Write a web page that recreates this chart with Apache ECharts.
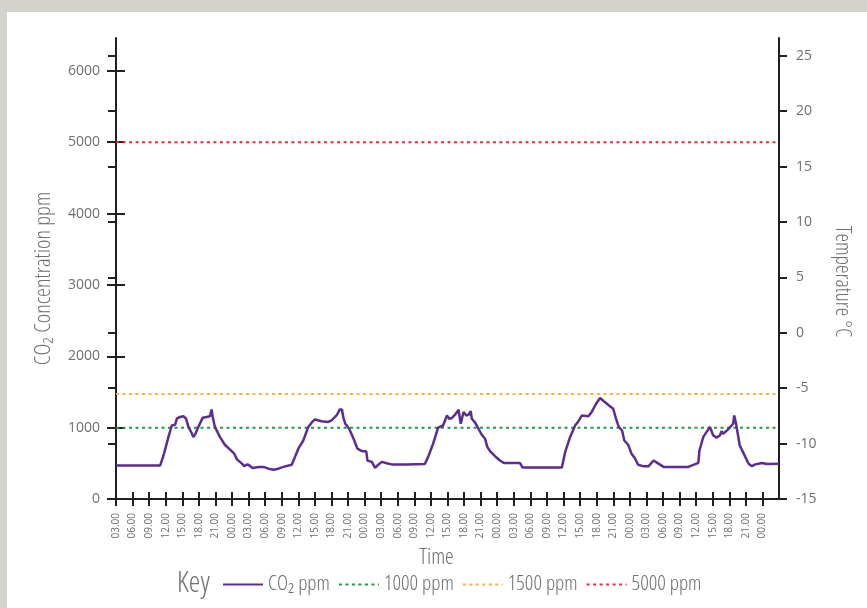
<!DOCTYPE html>
<html>
<head>
<meta charset="utf-8">
<script src="https://cdn.jsdelivr.net/npm/echarts@6/dist/echarts.min.js"></script>
<style>
html,body{margin:0;padding:0;background:#d3d2cd;}
#chart{width:867px;height:608px;}
</style>
</head>
<body>
<div id="chart"></div>
<script>
// Hours since 03.00 on day 1
const hours = [0, 8.0, 8.6, 9.5, 10.1, 10.4, 10.7, 11.0, 11.6, 12.2, 12.7, 13.1, 13.7, 14.0, 14.3, 14.9, 15.7, 16.4, 17.0, 17.3, 17.5, 17.9, 18.8, 19.7, 20.6, 21.4, 21.9, 22.8, 23.2, 23.8, 24.3, 24.7, 25.5, 26.1, 26.4, 26.7, 27.6, 28.5, 29.4, 30.3, 31.8, 32.4, 33.0, 33.9, 34.8, 35.4, 36.0, 37.2, 38.4, 39.0, 40.0, 40.5, 40.9, 41.0, 41.2, 41.5, 42.2, 43.0, 43.7, 44.5, 45.3, 45.5, 46.3, 46.6, 46.9, 47.3, 48.1, 49.0, 49.9, 52.6, 55.9, 56.5, 57.4, 58.3, 59.2, 59.9, 60.3, 60.8, 61.4, 62.0, 62.4, 62.9, 63.4, 63.8, 64.2, 64.4, 65.0, 65.6, 66.2, 66.8, 67.2, 67.7, 68.6, 69.5, 70.2, 73.1, 73.6, 80.7, 81.3, 82.2, 83.1, 83.7, 84.3, 85.5, 86.1, 86.9, 87.6, 88.3, 89.4, 90.0, 90.5, 91.0, 91.6, 92.0, 92.7, 93.3, 93.9, 94.5, 95.4, 96.4, 97.3, 97.9, 99.1, 103.6, 105.4, 105.6, 106.3, 107.5, 108.1, 108.7, 109.3, 109.6, 109.9, 110.8, 111.7, 111.9, 112.2, 112.9, 113.9, 114.5, 115.1, 115.7, 116.9, 117.8, 120];
const co2 = [470, 470, 610, 870, 1030, 1055, 1040, 1125, 1150, 1160, 1125, 1010, 925, 870, 900, 1010, 1140, 1150, 1160, 1255, 1150, 1010, 870, 760, 695, 635, 555, 495, 460, 485, 460, 435, 445, 450, 470, 450, 425, 410, 425, 450, 480, 590, 705, 820, 1010, 1070, 1115, 1090, 1080, 1100, 1180, 1255, 1255, 1200, 1125, 1055, 985, 845, 705, 670, 668, 540, 520, 540, 435, 470, 520, 500, 485, 485, 490, 590, 775, 1000, 1030, 1170, 1125, 1135, 1185, 1250, 1055, 1220, 1170, 1180, 1230, 1125, 1070, 985, 900, 845, 730, 670, 600, 540, 505, 505, 440, 440, 660, 870, 1030, 1090, 1170, 1160, 1220, 1335, 1415, 1370, 1300, 1265, 1125, 1010, 960, 820, 760, 635, 575, 480, 460, 460, 540, 510, 450, 450, 505, 680, 870, 1010, 890, 860, 890, 950, 915, 975, 1055, 1170, 1065, 750, 590, 495, 460, 485, 505, 490, 495];

const tickLabels = ['03.00','06.00','09.00','12.00','15.00','18.00','21.00',
  '00.00','03.00','06.00','09.00','12.00','15.00','18.00','21.00',
  '00.00','03.00','06.00','09.00','12.00','15.00','18.00','21.00',
  '00.00','03.00','06.00','09.00','12.00','15.00','18.00','21.00',
  '00.00','03.00','06.00','09.00','12.00','15.00','18.00','21.00',
  '00.00'];
const tickStep = 3;
const xMax = 120;

const co2Ticks = [0, 1000, 2000, 3000, 4000, 5000, 6000];
const tempTicks = [-15, -10, -5, 0, 5, 10, 15, 20, 25];

const thresholdNames = ['1000 ppm', '1500 ppm', '5000 ppm'];
const thresholdValues = [1000, 1470, 5000];
const thresholdColors = ['#1f9a47', '#fbb040', '#ee2b3b'];

const cond = "'Open Sans',sans-serif";
const condWeight = '300 condensed';
const tickFont = "'Open Sans',sans-serif";
const textCol = '#6d6e71';
const axisCol = '#231f20';

const xTickVals = tickLabels.map((_, i) => i * tickStep);

const chart = echarts.init(document.getElementById('chart'), null, {renderer: 'canvas'});

const baseX = {
  type: 'value', min: 0, max: xMax, position: 'bottom', gridIndex: 0,
  splitLine: {show: false},
  axisLine: {show: true, onZero: false, lineStyle: {color: axisCol, width: 2}},
};
const baseYLeft = {
  type: 'value', min: 0, max: 6460, position: 'left',
  splitLine: {show: false},
  axisLine: {show: true, onZero: false, lineStyle: {color: axisCol, width: 2}},
};
const baseYRight = {
  type: 'value', min: -15, max: 26.6, position: 'right',
  splitLine: {show: false},
  axisLine: {show: true, onZero: false, lineStyle: {color: axisCol, width: 2}},
};

const series = [{
  name: 'CO₂ ppm', type: 'line', xAxisIndex: 0, yAxisIndex: 0,
  data: hours.map((h, i) => [h, co2[i]]),
  symbol: 'none', z: 5,
  lineStyle: {color: '#5c2d91', width: 2.5},
  itemStyle: {color: '#5c2d91'}
}];
thresholdNames.forEach((n, i) => {
  series.push({
    name: n, type: 'line', xAxisIndex: 0, yAxisIndex: 0,
    data: [[0, thresholdValues[i]], [xMax, thresholdValues[i]]],
    symbol: 'none', z: 3,
    lineStyle: {color: thresholdColors[i], width: 2, type: [3, 3.5]},
    itemStyle: {color: thresholdColors[i]}
  });
});

chart.setOption({
  animation: false,
  backgroundColor: '#d3d2cd',
  graphic: [{type: 'rect', left: 7, top: 12, shape: {width: 860, height: 596}, style: {fill: '#ffffff'}, z: -10, silent: true}],
  title: {text: 'Key', left: 177, top: 569, padding: 0, textStyle: {fontFamily: cond, fontSize: 29, fontWeight: condWeight, color: textCol}},
  legend: {
    left: 222, top: 574, padding: 0, itemWidth: 40, itemHeight: 14, itemGap: 8,
    itemStyle: {color: 'rgba(0,0,0,0)', borderWidth: 0, opacity: 0},
    textStyle: {fontFamily: cond, fontSize: 21, fontWeight: condWeight, color: textCol},
    data: ['CO₂ ppm'].concat(thresholdNames)
  },
  grid: {left: 116, right: 88, top: 38, bottom: 109, containLabel: false},
  xAxis: [
    Object.assign({}, baseX, {
      name: 'Time', nameLocation: 'middle', nameGap: 37,
      nameTextStyle: {fontFamily: cond, fontSize: 22, fontWeight: condWeight, color: textCol, padding: [0, 22, 0, 0]},
      axisTick: {show: true, inside: false, length: 7, customValues: xTickVals, lineStyle: {color: axisCol, width: 2}},
      axisLabel: {show: true, rotate: 90, margin: 14, customValues: xTickVals, fontFamily: tickFont, fontSize: 10, color: textCol,
        formatter: v => tickLabels[Math.round(v / tickStep)] || ''}
    }),
    Object.assign({}, baseX, {
      axisLine: {show: false},
      axisTick: {show: true, inside: true, length: 7, customValues: xTickVals, lineStyle: {color: axisCol, width: 2}},
      axisLabel: {show: false}
    })
  ],
  yAxis: [
    Object.assign({}, baseYLeft, {
      name: 'CO₂ Concentration ppm', nameLocation: 'middle', nameGap: 61, nameRotate: 90,
      nameTextStyle: {fontFamily: cond, fontSize: 22.5, fontWeight: condWeight, color: textCol, padding: [0, 20, 0, 0]},
      axisTick: {show: true, inside: false, length: 9, customValues: co2Ticks, lineStyle: {color: axisCol, width: 2}},
      axisLabel: {show: true, margin: 16, customValues: co2Ticks, fontFamily: tickFont, fontSize: 14, color: textCol,
        formatter: v => String(v)}
    }),
    Object.assign({}, baseYRight, {
      name: 'Temperature °C', nameLocation: 'middle', nameGap: 52, nameRotate: -90,
      nameTextStyle: {fontFamily: cond, fontSize: 21.5, fontWeight: condWeight, color: textCol, padding: [0, 0, 0, 26]},
      axisTick: {show: true, inside: false, length: 8, customValues: tempTicks, lineStyle: {color: axisCol, width: 2}},
      axisLabel: {show: true, margin: 17, customValues: tempTicks, fontFamily: tickFont, fontSize: 14, color: textCol,
        formatter: v => String(v)}
    }),
    Object.assign({}, baseYLeft, {
      axisLine: {show: false},
      axisTick: {show: true, inside: true, length: 9, customValues: co2Ticks, lineStyle: {color: axisCol, width: 2}},
      axisLabel: {show: false}
    }),
    Object.assign({}, baseYRight, {
      axisLine: {show: false},
      axisTick: {show: true, inside: true, length: 8, customValues: tempTicks, lineStyle: {color: axisCol, width: 2}},
      axisLabel: {show: false}
    })
  ],
  series: series
});
</script>
</body>
</html>
